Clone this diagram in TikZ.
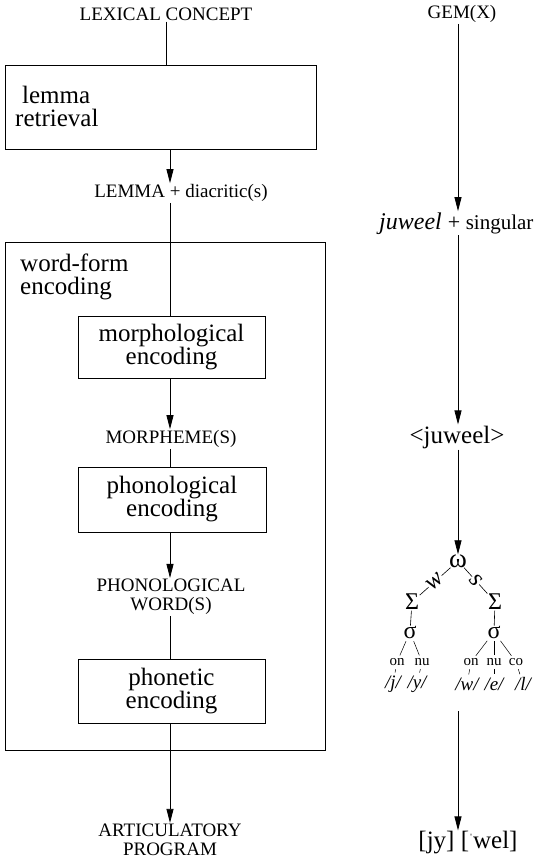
\documentclass[tikz,border=0pt]{standalone}
\usepackage{fontspec}
\setmainfont{Liberation Serif}
\newfontfamily\tms{Liberation Serif}
\usetikzlibrary{arrows.meta}
\begin{document}
\begin{tikzpicture}[x=1pt,y=-1pt,
  caplab/.style={font=\tms\fontsize{19}{19}\selectfont, inner sep=1pt, align=center},
  big/.style={font=\tms\fontsize{25}{23}\selectfont},
  box/.style={draw, line width=0.9pt, inner sep=0pt},
  arr/.style={line width=0.8pt, -{Triangle[length=14pt,width=7pt]}},
  ln/.style={line width=0.8pt},
  tl/.style={line width=0.6pt},
  tk/.style={line width=0.5pt, shorten <=3pt, shorten >=2.5pt},
  greek/.style={font=\tms\fontsize{24}{24}\selectfont, inner sep=0.5pt},
  ph/.style={font=\tms\fontsize{15}{15}\selectfont, inner sep=0.5pt},
  seg/.style={font=\tms\fontsize{19}{19}\selectfont\itshape, inner sep=0.5pt},
  stress/.style={sloped, fill=white, inner sep=0.3pt, font=\tms\fontsize{25}{25}\selectfont\itshape},
]
\useasboundingbox (0,0) rectangle (536,859);
\coordinate (axL) at (170,0);
\coordinate (axT) at (166,0);
\coordinate (axR) at (458,0);

% ---------- left column ----------
\node[caplab] (lexcon) at (166,14) {LEXICAL CONCEPT};
\node[box, minimum width=311pt, minimum height=84pt] (lemmabox) at (160.5,107) {};
\node[big, anchor=west, align=left, inner sep=0pt] (lemmatext) at (15,106) {\hspace*{7pt}lemma\\retrieval};
\node[caplab] (lemmalab) at (181,193) {LEMMA + diacritic(s)};

\node[box, minimum width=320pt, minimum height=508pt] (wfbox) at (165,496) {};
\node[big, anchor=west, align=left, inner sep=0pt] (wftext) at (20,277) {word-form\\encoding};

\node[box, big, minimum width=187pt, minimum height=62pt, align=center] (morph) at (171.5,347) {morphological\\encoding};
\node[caplab] (morphlab) at (171,439) {MORPHEME(S)};
\node[box, big, minimum width=188pt, minimum height=65pt, align=center] (phon) at (172,499.5) {phonological\\encoding};
\node[caplab] (phonlab) at (171,597) {PHONOLOGICAL\\WORD(S)};
\node[box, big, minimum width=187pt, minimum height=64pt, align=center] (phonet) at (171.5,691) {phonetic\\encoding};
\node[caplab] (artlab) at (170,840) {ARTICULATORY\\PROGRAM};

\draw[ln] (lexcon.south -| axT) -- (lemmabox.north -| axT);
\draw[arr] (lemmabox.south -| axL) -- (lemmalab.north -| axL);
\draw[ln] (lemmalab.south -| axL) -- (morph.north -| axL);
\draw[arr] (morph.south -| axL) -- (morphlab.north -| axL);
\draw[ln] (morphlab.south -| axL) -- (phon.north -| axL);
\draw[arr] (phon.south -| axL) -- (phonlab.north -| axL);
\draw[ln] (phonlab.south -| axL) -- (phonet.north -| axL);
\draw[arr] (phonet.south -| axL) -- (artlab.north -| axL);

% ---------- right column ----------
\node[caplab] (gem) at (462,14) {GEM(X)};
\node[inner sep=1pt, anchor=base west, font=\tms] (juw) at (378,229) {\fontsize{24}{24}\selectfont\textit{juweel} \fontsize{22}{22}\selectfont+ \fontsize{21}{21}\selectfont singular};
\node[big, inner sep=1pt] (angle) at (457,437) {<juweel>};

\node[font=\tms\fontsize{27}{27}\selectfont, inner sep=0pt] (omega) at (458,561) {ω};
\node[greek] (S1) at (412,602) {Σ};
\node[greek] (S2) at (495,602) {Σ};
\node[greek, inner sep=0pt] (s1) at (410,632) {σ};
\node[greek, inner sep=0pt] (s2) at (494,632) {σ};

\node[ph] (on1) at (397,662) {on};
\node[ph] (nu1) at (422,662) {nu};
\node[ph] (on2) at (471,662) {on};
\node[ph] (nu2) at (494,662) {nu};
\node[ph] (co2) at (516,662) {co};

\node[seg] (p1) at (393,684) {/j/};
\node[seg] (p2) at (417,684) {/y/};
\node[seg] (p3) at (467,684) {/w/};
\node[seg] (p4) at (494,684) {/e/};
\node[seg] (p5) at (523,684) {/l/};

\node[big, inner sep=1pt] (out) at (468,843) {[jy] [\raisebox{6pt}{\fontsize{12}{12}\selectfont ˈ}wel]};

\draw[arr] (gem.south -| axR) -- (juw.north -| axR);
\draw[arr] (juw.south -| axR) -- (angle.north -| axR);
\draw[arr] (angle.south -| axR) -- (omega.north -| axR);

\draw[tl] (omega) -- node[stress] (wlab) {w} (S1);
\draw[tl] (omega) -- node[stress] (slab) {s} (S2);
\draw[tl] (S1) -- (s1);
\draw[tl] (S2) -- (s2);
\draw[tk] (s1) -- (on1);
\draw[tk] (s1) -- (nu1);
\draw[tk] (s2) -- (on2);
\draw[tk] (s2) -- (nu2);
\draw[tk] (s2) -- (co2);
\draw[tk] (on1) -- (p1);
\draw[tk] (nu1) -- (p2);
\draw[tk] (on2) -- (p3);
\draw[tk] (nu2) -- (p4);
\draw[tk] (co2) -- (p5);

\draw[arr, shorten <=20pt] (p4.south -| axR) -- (out.north -| axR);
\end{tikzpicture}
\end{document}
